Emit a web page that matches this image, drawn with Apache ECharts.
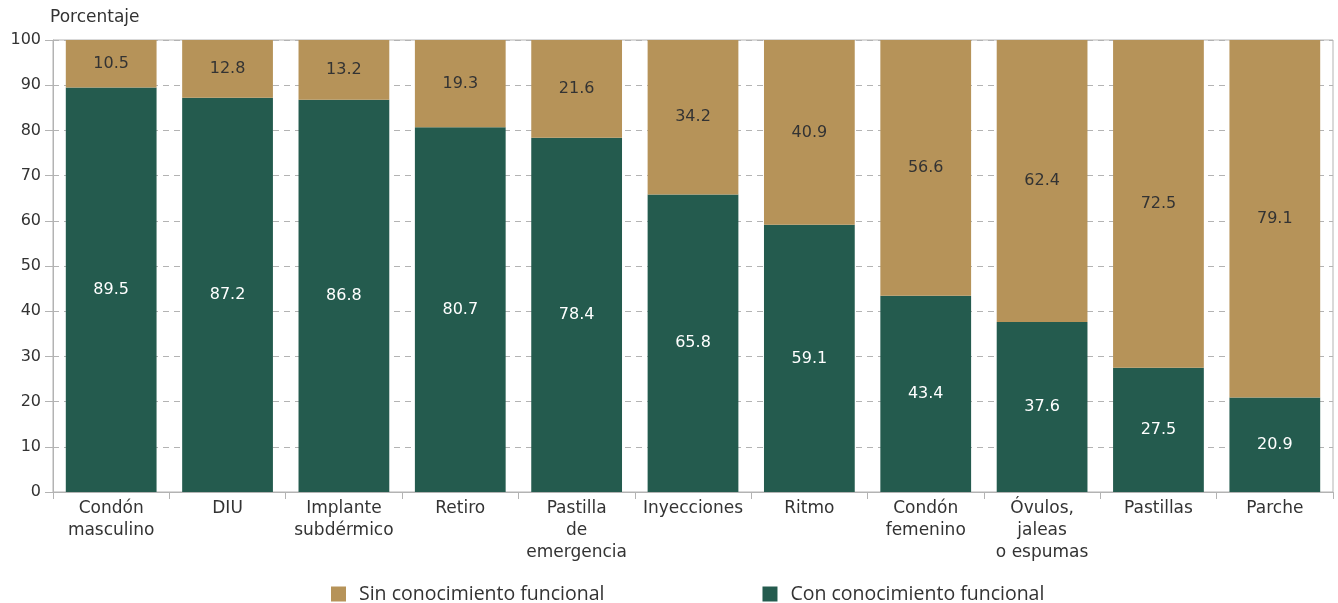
<!DOCTYPE html>
<html><head><meta charset="utf-8">
<script src="https://cdn.jsdelivr.net/npm/echarts@6/dist/echarts.min.js"></script>
<style>html,body{margin:0;padding:0;background:#fff}#c{width:1338px;height:603px}</style>
</head><body><div id="c"></div>
<script>
const categories = ["Condón\nmasculino","DIU","Implante\nsubdérmico","Retiro","Pastilla\nde\nemergencia","Inyecciones","Ritmo","Condón\nfemenino","Óvulos,\njaleas\no espumas","Pastillas","Parche"];
const conConocimiento = [89.5,87.2,86.8,80.7,78.4,65.8,59.1,43.4,37.6,27.5,20.9];
const sinConocimiento = [10.5,12.8,13.2,19.3,21.6,34.2,40.9,56.6,62.4,72.5,79.1];
const yTicks = {min:0,max:100,interval:10};
const FONT = "DejaVu Sans";
const chart = echarts.init(document.getElementById('c'));
chart.setOption({
  animation:false,
  textStyle:{fontFamily:FONT},
  grid:{left:53,right:5,top:40,bottom:111,show:true,borderColor:'#b3b3b3',borderWidth:1,backgroundColor:'transparent'},
  legend:{
    data:['Sin conocimiento funcional','Con conocimiento funcional'],
    top:584,left:331,padding:0,itemWidth:15,itemHeight:15,itemGap:158,
    icon:'rect',
    textStyle:{fontFamily:'Open Sans',fontSize:19.5,color:'#333',padding:[0,0,0,8]}
  },
  xAxis:{
    type:'category',data:categories,
    axisLine:{lineStyle:{color:'#b3b3b3'}},
    axisTick:{show:true,length:7,lineStyle:{color:'#b3b3b3'}},
    axisLabel:{fontFamily:FONT,fontSize:17,color:'#333',lineHeight:22,margin:6,interval:0}
  },
  yAxis:{
    type:'value',min:yTicks.min,max:yTicks.max,interval:yTicks.interval,
    name:'Porcentaje',nameLocation:'end',nameGap:14,
    nameTextStyle:{fontFamily:FONT,fontSize:17,color:'#333',align:'left',padding:[0,0,0,-3]},
    axisLine:{show:true,lineStyle:{color:'#b3b3b3'}},
    axisTick:{show:true,length:8,lineStyle:{color:'#b3b3b3'}},
    axisLabel:{fontFamily:FONT,fontSize:16,color:'#333',margin:12},
    splitLine:{show:true,lineStyle:{color:'#b3b3b3',type:[6,5]}}
  },
  series:[
    {name:'Con conocimiento funcional',type:'bar',stack:'a',data:conConocimiento,barCategoryGap:'22%',
     itemStyle:{color:'#245b4e'},
     label:{show:true,position:'inside',color:'#fff',fontFamily:FONT,fontSize:16,formatter:p=>p.value.toFixed(1)}},
    {name:'Sin conocimiento funcional',type:'bar',stack:'a',data:sinConocimiento,barCategoryGap:'22%',
     itemStyle:{color:'#b69359'},
     label:{show:true,position:'inside',color:'#333',fontFamily:FONT,fontSize:16,formatter:p=>p.value.toFixed(1)}}
  ]
});
</script></body></html>
